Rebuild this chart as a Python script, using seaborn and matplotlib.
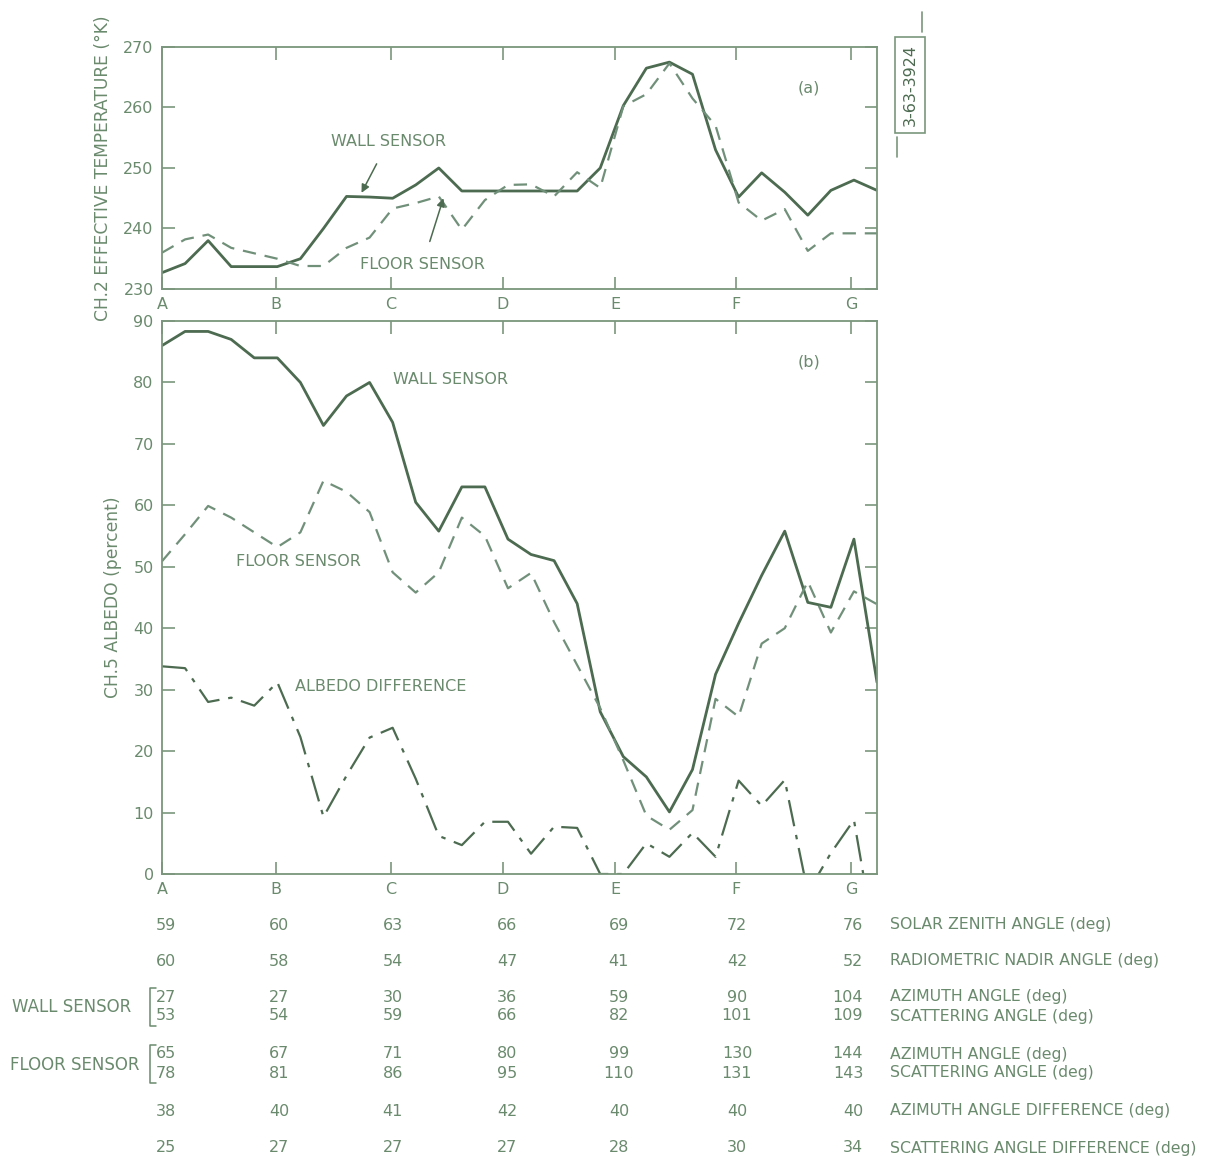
import numpy as np
import pandas as pd
import matplotlib
matplotlib.use("Agg")
import matplotlib.pyplot as plt
import matplotlib.transforms as mtransforms
import seaborn as sns

# ---------------- data ----------------
sample_index = list(range(32))
letters = ["A", "B", "C", "D", "E", "F", "G"]
letter_pos = [0, 4.94, 9.93, 14.78, 19.64, 24.88, 29.87]

temp_wall = [232.7, 234.2, 238.0, 233.7, 233.7, 233.7, 235.0, 240.0, 245.3, 245.2,
             245.0, 247.2, 250.0, 246.2, 246.2, 246.2, 246.2, 246.2, 246.2, 250.0,
             260.3, 266.5, 267.5, 265.5, 253.0, 245.2, 249.2, 246.0, 242.2, 246.3,
             248.0, 246.3]
temp_floor = [236.0, 238.2, 239.0, 236.8, 235.9, 235.0, 233.8, 233.8, 236.8, 238.5,
              243.3, 244.2, 245.3, 239.8, 244.7, 247.2, 247.3, 245.3, 249.3, 246.7,
              260.2, 262.2, 267.3, 261.5, 257.0, 244.3, 241.3, 243.2, 236.3, 239.2,
              239.2, 239.2]

alb_wall = [86.0, 88.3, 88.3, 87.0, 84.0, 84.0, 80.0, 73.0, 77.8, 80.0,
            73.5, 60.5, 55.8, 63.0, 63.0, 54.5, 52.0, 51.0, 44.0, 26.4,
            19.1, 15.8, 10.1, 17.0, 32.5, 40.8, 48.6, 55.8, 44.2, 43.4,
            54.5, 31.2]
alb_floor = [50.9, 55.3, 59.9, 58.0, 55.6, 53.2, 55.6, 64.0, 62.2, 58.9,
             49.1, 45.8, 49.1, 58.0, 55.0, 46.5, 49.0, 41.0, 34.0, 27.0,
             18.5, 9.5, 7.2, 10.4, 28.5, 25.6, 37.5, 40.0, 47.6, 39.3,
             46.0, 43.9]
alb_diff = [33.8, 33.5, 28.0, 28.7, 27.4, 31.2, 22.3, 9.3, 16.0, 22.2,
            23.8, 15.5, 6.2, 4.7, 8.5, 8.5, 3.3, 7.7, 7.5, 0.0,
            0.0, 5.0, 2.8, 6.7, 2.8, 15.2, 11.1, 15.3, -3.0, 3.4,
            8.8, -13.0]

row_labels = ["SOLAR ZENITH ANGLE (deg)", "RADIOMETRIC NADIR ANGLE (deg)",
              "AZIMUTH ANGLE (deg)", "SCATTERING ANGLE (deg)",
              "AZIMUTH ANGLE (deg)", "SCATTERING ANGLE (deg)",
              "AZIMUTH ANGLE DIFFERENCE (deg)", "SCATTERING ANGLE DIFFERENCE (deg)"]
solar_zenith = [59, 60, 63, 66, 69, 72, 76]
nadir = [60, 58, 54, 47, 41, 42, 52]
wall_azimuth = [27, 27, 30, 36, 59, 90, 104]
wall_scatter = [53, 54, 59, 66, 82, 101, 109]
floor_azimuth = [65, 67, 71, 80, 99, 130, 144]
floor_scatter = [78, 81, 86, 95, 110, 131, 143]
azimuth_diff = [38, 40, 41, 42, 40, 40, 40]
scatter_diff = [25, 27, 27, 27, 28, 30, 34]

# ---------------- style ----------------
sns.set_theme(style="white")
plt.rcParams["font.family"] = ["DejaVu Sans"]
LINE = "#4c6b50"
DASH = "#71907a"
TXT = "#6a8a6d"
AX = "#7a967c"

fig = plt.figure(figsize=(12.24, 11.58), dpi=100)
W, H = 1224, 1158


def axes_px(l, t, r, b):
    return fig.add_axes([l / W, 1 - b / H, (r - l) / W, (b - t) / H])


ax_a = axes_px(162, 47, 877, 289)
ax_b = axes_px(162, 321, 877, 874)

for ax in (ax_a, ax_b):
    ax.set_xlim(0, 31)
    ax.set_xticks(letter_pos)
    ax.set_xticklabels(letters)
    for s in ax.spines.values():
        s.set_color(AX)
        s.set_linewidth(1.3)
    ax.tick_params(axis="both", direction="in", color=AX, width=1.2, length=9,
                   labelcolor=TXT, labelsize=11.5, top=True, right=True,
                   bottom=True, left=True, pad=6)
    ax.set_facecolor("white")
    ax.grid(False)

# panel a
sns.lineplot(x=sample_index, y=temp_wall, ax=ax_a, color=LINE, lw=2.0)
sns.lineplot(x=sample_index, y=temp_floor, ax=ax_a, color=DASH, lw=1.6,
             linestyle=(0, (6, 4)))
ax_a.set_ylim(230, 270)
ax_a.set_yticks([230, 240, 250, 260, 270])
ax_a.set_ylabel("CH.2 EFFECTIVE TEMPERATURE (°K)", color=TXT, fontsize=12.3,
                labelpad=8)
ax_a.text(0.905, 0.83, "(a)", transform=ax_a.transAxes, color=TXT, fontsize=11.5,
          ha="center", va="center")
ax_a.annotate("WALL SENSOR", xy=(8.65, 245.9), xytext=(9.8, 254.3),
              color=TXT, fontsize=11.5, ha="center", va="center",
              arrowprops=dict(arrowstyle="-|>", color=LINE, lw=1.1,
                              shrinkA=9, shrinkB=0, mutation_scale=12))
ax_a.annotate("FLOOR SENSOR", xy=(12.2, 245.0), xytext=(11.3, 234.1),
              color=TXT, fontsize=11.5, ha="center", va="center",
              arrowprops=dict(arrowstyle="-|>", color=LINE, lw=1.1,
                              shrinkA=9, shrinkB=0, mutation_scale=12))

# panel b
sns.lineplot(x=sample_index, y=alb_wall, ax=ax_b, color=LINE, lw=2.0)
sns.lineplot(x=sample_index, y=alb_floor, ax=ax_b, color=DASH, lw=1.6,
             linestyle=(0, (6, 4)))
sns.lineplot(x=sample_index, y=alb_diff, ax=ax_b, color=LINE, lw=1.6,
             linestyle=(0, (12, 4, 2, 4)))
ax_b.set_ylim(0, 90)
ax_b.set_yticks(range(0, 91, 10))
ax_b.set_ylabel("CH.5 ALBEDO (percent)", color=TXT, fontsize=12.3, labelpad=8)
ax_b.text(0.905, 0.925, "(b)", transform=ax_b.transAxes, color=TXT, fontsize=11.5,
          ha="center", va="center")
ax_b.text(12.5, 80.5, "WALL SENSOR", color=TXT, fontsize=11.5, ha="center", va="center")
ax_b.text(5.9, 50.8, "FLOOR SENSOR", color=TXT, fontsize=11.5, ha="center", va="center")
ax_b.text(9.5, 30.5, "ALBEDO DIFFERENCE", color=TXT, fontsize=11.5, ha="center", va="center")

# stamp
fig.text(910 / W, 1 - 85 / H, "3-63-3924", rotation=90, color=LINE, fontsize=11.5,
         ha="center", va="center",
         bbox=dict(boxstyle="square,pad=0.45", fc="white", ec=AX, lw=1.2))
fig.add_artist(plt.Line2D([922 / W, 922 / W], [1 - 12 / H, 1 - 32 / H], color=AX, lw=1.2))
fig.add_artist(plt.Line2D([897 / W, 897 / W], [1 - 137 / H, 1 - 157 / H], color=AX, lw=1.2))

# table below
trans = mtransforms.blended_transform_factory(ax_b.transData, fig.transFigure)
col_x = [0.17, 5.07, 10.0, 14.96, 19.81, 24.93]
last_x = 30.4
rows = [solar_zenith, nadir, wall_azimuth, wall_scatter,
        floor_azimuth, floor_scatter, azimuth_diff, scatter_diff]
row_y = [925, 961, 997, 1016, 1054, 1073, 1111, 1148]
for vals, lab, ypx in zip(rows, row_labels, row_y):
    yf = 1 - ypx / H
    for cx, v in zip(col_x, vals[:6]):
        fig.text(cx, yf, str(v), transform=trans, ha="center", va="center",
                 color=TXT, fontsize=11.5)
    fig.text(last_x, yf, str(vals[6]), transform=trans, ha="right", va="center",
             color=TXT, fontsize=11.5)
    fig.text(890 / W, yf, lab, ha="left", va="center", color=TXT, fontsize=11.3)

fig.text(12 / W, 1 - 1007 / H, "WALL SENSOR", ha="left", va="center", color=TXT, fontsize=12)
fig.text(10 / W, 1 - 1065 / H, "FLOOR SENSOR", ha="left", va="center", color=TXT, fontsize=12)
for top, bot in [(988, 1026), (1045, 1083)]:
    xs = [156 / W, 150 / W, 150 / W, 156 / W]
    ys = [1 - top / H, 1 - top / H, 1 - bot / H, 1 - bot / H]
    fig.add_artist(plt.Line2D(xs, ys, color=TXT, lw=1.1))

fig.savefig("out.png", dpi=100, facecolor="white")
